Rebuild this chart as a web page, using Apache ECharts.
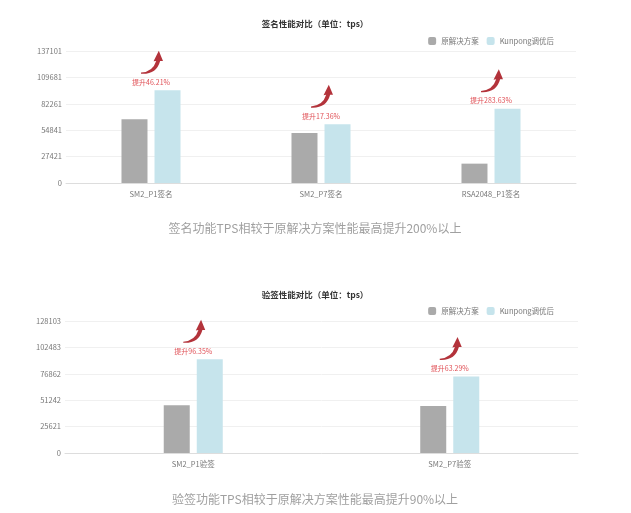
<!DOCTYPE html>
<html>
<head>
<meta charset="utf-8">
<script src="https://cdn.jsdelivr.net/npm/echarts@6/dist/echarts.min.js"></script>
<style>
  html, body { margin: 0; padding: 0; background: #fff; }
  #chart { width: 631px; height: 513px; }
</style>
</head>
<body>
<div id="chart"></div>
<script>
// 签名 (sign) chart data
const sigCategories = ['SM2_P1签名', 'SM2_P7签名', 'RSA2048_P1签名'];
const sigOriginal = [66300, 52000, 20100];
const sigKunpeng = [96300, 61000, 77100];
const sigGain = ['46.21%', '17.36%', '283.63%'];
const sigAxisMax = 137101;

// 验签 (verify) chart data
const verCategories = ['SM2_P1验签', 'SM2_P7验签'];
const verOriginal = [46300, 45500];
const verKunpeng = [90900, 74300];
const verGain = ['96.35%', '63.29%'];
const verAxisMax = 128103;

const seriesNames = ['原解决方案', 'Kunpong调优后'];
const FONT = '"Noto Sans CJK SC", "Noto Sans", sans-serif';
const GRAY = '#aaaaaa';
const BLUE = '#c6e4ec';

// curved arrow pointing up
const ARROW = 'path://M0,95 Q54,91 69,44 L57,46 L81,0 L100,44 L87,44 Q70,104 0,100 Z';

function yAxisFor (idx, max) {
    return {
        type: 'value', gridIndex: idx, min: 0, max: max, interval: max / 5,
        axisLine: { show: false }, axisTick: { show: false },
        splitLine: { lineStyle: { color: '#f0f0f0' } },
        axisLabel: {
            color: '#777', fontSize: 7.5, fontFamily: FONT, margin: 4,
            formatter: v => String(Math.ceil(v - 1e-6))
        }
    };
}

function xAxisFor (idx, cats) {
    return {
        type: 'category', gridIndex: idx, data: cats,
        axisTick: { show: false },
        axisLine: { lineStyle: { color: '#dddddd' } },
        axisLabel: { color: '#777', fontSize: 7.5, fontFamily: FONT, margin: 7 }
    };
}

function barSeries (idx, name, values, color) {
    return {
        name: name, type: 'bar', xAxisIndex: idx, yAxisIndex: idx,
        data: values, barWidth: 26, barGap: '27%',
        itemStyle: { color: color }
    };
}

function arrowSeries (idx, values) {
    return {
        type: 'scatter', xAxisIndex: idx, yAxisIndex: idx,
        data: values.map((v, i) => [i, v]),
        symbol: ARROW, symbolSize: [22, 23], symbolOffset: [1, -28],
        itemStyle: { color: '#a0000a' }, silent: true, z: 5
    };
}

function gainSeries (idx, values, gains) {
    return {
        type: 'scatter', xAxisIndex: idx, yAxisIndex: idx,
        data: values.map((v, i) => [i, v]),
        symbolSize: 1, itemStyle: { color: 'rgba(0,0,0,0)' }, silent: true, z: 5,
        label: {
            show: true, position: 'top', distance: 4,
            color: '#d8232a', fontSize: 7, fontFamily: FONT,
            formatter: p => '提升' + gains[p.dataIndex]
        }
    };
}

function titleAt (text, top, size, color, bold) {
    return {
        text: text, left: 310, top: top, textAlign: 'center',
        textStyle: { fontSize: size, color: color, fontWeight: bold ? 'bold' : 'normal', fontFamily: FONT }
    };
}

const legendBase = {
    data: seriesNames, right: 72, itemWidth: 8, itemHeight: 8, itemGap: 8,
    textStyle: { fontSize: 7.5, color: '#777', fontFamily: FONT }
};

const chart = echarts.init(document.getElementById('chart'));
chart.setOption({
    animation: false,
    title: [
        titleAt('签名性能对比（单位：tps）', 15, 8.5, '#333', true),
        titleAt('签名功能TPS相较于原解决方案性能最高提升200%以上', 217, 12, '#a0a0a0', false),
        titleAt('验签性能对比（单位：tps）', 286, 8.5, '#333', true),
        titleAt('验签功能TPS相较于原解决方案性能最高提升90%以上', 488, 12, '#a0a0a0', false)
    ],
    legend: [
        Object.assign({ top: 32 }, legendBase),
        Object.assign({ top: 302 }, legendBase)
    ],
    grid: [
        { left: 66, right: 55, top: 51, height: 132 },
        { left: 65, right: 53, top: 321, height: 132 }
    ],
    xAxis: [xAxisFor(0, sigCategories), xAxisFor(1, verCategories)],
    yAxis: [yAxisFor(0, sigAxisMax), yAxisFor(1, verAxisMax)],
    series: [
        barSeries(0, seriesNames[0], sigOriginal, GRAY),
        barSeries(0, seriesNames[1], sigKunpeng, BLUE),
        arrowSeries(0, sigKunpeng),
        gainSeries(0, sigKunpeng, sigGain),
        barSeries(1, seriesNames[0], verOriginal, GRAY),
        barSeries(1, seriesNames[1], verKunpeng, BLUE),
        arrowSeries(1, verKunpeng),
        gainSeries(1, verKunpeng, verGain)
    ]
});
</script>
</body>
</html>
